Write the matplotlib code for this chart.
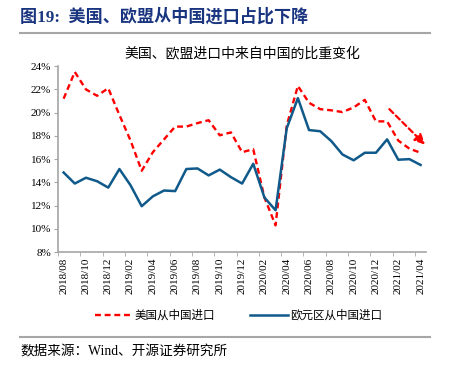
import matplotlib
matplotlib.use('Agg')
import matplotlib.pyplot as plt
from matplotlib.lines import Line2D

plt.rcParams['font.family'] = ['Liberation Serif', 'Noto Sans CJK SC']

# monthly data 2018/08 - 2021/04, share of imports from China (%)
us_share = [21.2, 23.5, 22.0, 21.45, 22.1, 19.8, 17.6, 15.0, 16.6, 17.7,
            18.8, 18.8, 19.1, 19.35, 18.05, 18.3, 16.6, 16.85, 12.7, 10.3,
            18.9, 22.3, 20.85, 20.3, 20.2, 20.05, 20.45, 21.1, 19.25, 19.25,
            17.6, 16.9, 16.55]
eu_share = [14.85, 13.9, 14.4, 14.1, 13.55, 15.15, 13.75, 11.95, 12.8, 13.3,
            13.25, 15.15, 15.2, 14.6, 15.1, 14.45, 13.9, 15.6, 12.7, 11.6,
            18.65, 21.25, 18.5, 18.4, 17.55, 16.4, 15.9, 16.55, 16.55, 17.7,
            15.95, 16.0, 15.5]
tick_labels = ['2018/08', '2018/10', '2018/12', '2019/02', '2019/04', '2019/06',
               '2019/08', '2019/10', '2019/12', '2020/02', '2020/04', '2020/06',
               '2020/08', '2020/10', '2020/12', '2021/02', '2021/04']
y_ticks = [8, 10, 12, 14, 16, 18, 20, 22, 24]

red = '#FF0000'
blue = '#0F5A8A'
grey = '#A6A6A6'

fig = plt.figure(figsize=(4.5, 3.78), dpi=100)
ax = fig.add_axes([0.129, 0.333, 0.818, 0.492])

x = list(range(len(us_share)))
ax.plot(x, us_share, color=red, lw=1.7, dashes=(2.5, 1.6), label='美国从中国进口')
ax.plot(x, eu_share, color=blue, lw=1.8, label='欧元区从中国进口')

# trend arrow
ax.annotate('', xy=(32.4, 17.25), xytext=(29.2, 20.3),
            arrowprops=dict(arrowstyle='-|>,head_length=0.6,head_width=0.3',
                            color=red, lw=1.6, linestyle=(0, (2.5, 1.6)),
                            shrinkA=0, shrinkB=0))

ax.set_xlim(-0.5, 32.5)
ax.set_ylim(8, 24)
ax.set_yticks(y_ticks)
ax.set_yticklabels(['%d%%' % v for v in y_ticks], fontsize=8)
ax.set_xticks(range(0, len(us_share), 2))
ax.set_xticklabels(tick_labels, rotation=90, fontsize=8)
ax.set_xticks([i - 0.5 for i in range(0, len(us_share), 2)], minor=True)
ax.tick_params(axis='x', which='major', length=0, pad=4)
ax.tick_params(axis='x', which='minor', length=3, color=grey)
ax.tick_params(axis='y', length=3, color=grey, pad=2)
for s in ['top', 'right']:
    ax.spines[s].set_visible(False)
for s in ['left', 'bottom']:
    ax.spines[s].set_color(grey)
    ax.spines[s].set_linewidth(1.2)

ax.set_title('美国、欧盟进口中来自中国的比重变化', fontsize=10, pad=6)

handles = [Line2D([], [], color=red, lw=1.7, dashes=(2.5, 1.6)),
           Line2D([], [], color=blue, lw=1.8)]
fig.legend(handles, ['美国从中国进口', '欧元区从中国进口'], loc='center',
           bbox_to_anchor=(0.53, 0.165), ncol=2, frameon=False, fontsize=8.3,
           handlelength=3.3, handletextpad=0.2, columnspacing=3.0)

fig.text(0.045, 0.955, '图19:  美国、欧盟从中国进口占比下降', fontsize=12.3,
         fontweight='bold', color='#1A3580', va='center')
fig.add_artist(Line2D([0.044, 0.956], [0.912, 0.912], color=grey, lw=1.5))
fig.add_artist(Line2D([0.044, 0.956], [0.108, 0.108], color=grey, lw=1.5))
fig.text(0.045, 0.068, '数据来源：Wind、开源证券研究所', fontsize=9.8, va='center')

fig.savefig('out.png', dpi=100)
